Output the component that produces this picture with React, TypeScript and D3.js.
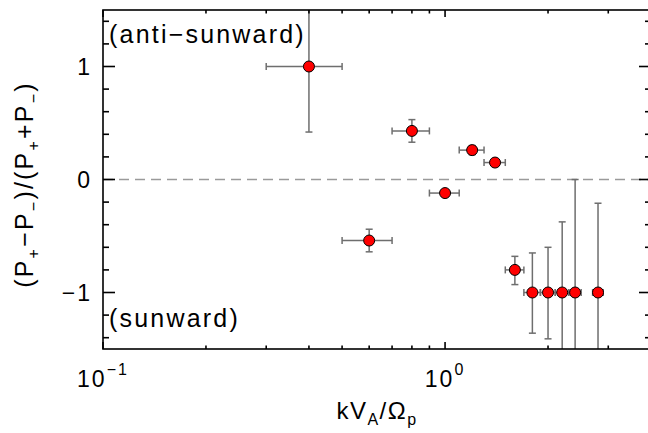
import * as d3 from 'd3';
import React from 'react';

// kV_A/Omega_p, value, x error range, y error range
const kva = [0.4, 0.8, 1.2, 1.4, 1.0, 0.6, 1.6, 1.8, 2.0, 2.2, 2.4, 2.8];
const xLo = [0.3, 0.7, 1.1, 1.3, 0.9, 0.5, 1.5, 1.7, 1.9, 2.1, 2.3, 2.7];
const xHi = [0.5, 0.9, 1.3, 1.5, 1.1, 0.7, 1.7, 1.9, 2.1, 2.3, 2.5, 2.9];
const ratio = [1.0, 0.43, 0.26, 0.15, -0.12, -0.54, -0.8, -1.0, -1.0, -1.0, -1.0, -1.0];
const yLo = [0.42, 0.33, 0.22, 0.13, -0.14, -0.64, -0.93, -1.36, -1.41, -1.7, -1.7, -1.7];
const yHi = [1.7, 0.53, 0.3, 0.17, -0.1, -0.44, -0.68, -0.65, -0.6, -0.375, 0.0, -0.21];

const xMajor = [0.1, 1];
const xMajorExp = ['\u22121', '0'];
const xMinor = [0.2, 0.3, 0.4, 0.5, 0.6, 0.7, 0.8, 0.9, 2, 3];
const yMajor = [-1, 0, 1];
const yMajorLabels = ['\u22121', '0', '1'];
const yMinor = [-1.4, -1.2, -0.8, -0.6, -0.4, -0.2, 0.2, 0.4, 0.6, 0.8, 1.2, 1.4];

const W = 648, H = 433;
const left = 103, right = 651, top = 10, bottom = 349;
const font = '"Liberation Sans", Arial, sans-serif';

const App = () => {
  const x = d3.scaleLog().domain([0.1, 4]).range([left, right]);
  const y = d3.scaleLinear().domain([-1.5, 1.5]).range([bottom, top]);
  const grey = '#6e6e6e';
  const cap = 3.5;

  return (
    <svg width={W} height={H} style={{ position: 'absolute', left: 0, top: 0, background: '#fff' }}
      fontFamily={font}>
      <defs>
        <clipPath id="plot">
          <rect x={left} y={top} width={right - left} height={bottom - top} />
        </clipPath>
      </defs>

      {/* zero line */}
      <line x1={left} x2={right} y1={y(0)} y2={y(0)} stroke="#9a9a9a" strokeWidth={1.5}
        strokeDasharray="10,6" />

      {/* error bars */}
      <g clipPath="url(#plot)" stroke={grey} strokeWidth={1.5} fill="none">
        {kva.map((d, i) => (
          <g key={i}>
            <line x1={x(xLo[i])} x2={x(xHi[i])} y1={y(ratio[i])} y2={y(ratio[i])} />
            <line x1={x(xLo[i])} x2={x(xLo[i])} y1={y(ratio[i]) - cap} y2={y(ratio[i]) + cap} />
            <line x1={x(xHi[i])} x2={x(xHi[i])} y1={y(ratio[i]) - cap} y2={y(ratio[i]) + cap} />
            <line x1={x(d)} x2={x(d)} y1={y(yLo[i])} y2={y(yHi[i])} />
            <line x1={x(d) - cap} x2={x(d) + cap} y1={y(yLo[i])} y2={y(yLo[i])} />
            <line x1={x(d) - cap} x2={x(d) + cap} y1={y(yHi[i])} y2={y(yHi[i])} />
          </g>
        ))}
      </g>

      {/* points */}
      <g>
        {kva.map((d, i) => (
          <circle key={i} cx={x(d)} cy={y(ratio[i])} r={5.5} fill="#ff0000" stroke="#000"
            strokeWidth={1} />
        ))}
      </g>

      {/* frame and ticks */}
      <g stroke="#000" strokeWidth={1.6}>
        <rect x={left} y={top} width={right - left} height={bottom - top} fill="none" />
        {xMajor.map(t => (
          <g key={'xm' + t}>
            <line x1={x(t)} x2={x(t)} y1={bottom} y2={bottom - 7} />
            <line x1={x(t)} x2={x(t)} y1={top} y2={top + 7} />
          </g>
        ))}
        {xMinor.map(t => (
          <g key={'xn' + t}>
            <line x1={x(t)} x2={x(t)} y1={bottom} y2={bottom - 3.5} />
            <line x1={x(t)} x2={x(t)} y1={top} y2={top + 3.5} />
          </g>
        ))}
        {yMajor.map(t => (
          <g key={'ym' + t}>
            <line x1={left} x2={left + 12} y1={y(t)} y2={y(t)} />
            <line x1={right} x2={right - 12} y1={y(t)} y2={y(t)} />
          </g>
        ))}
        {yMinor.map(t => (
          <g key={'yn' + t}>
            <line x1={left} x2={left + 6} y1={y(t)} y2={y(t)} />
            <line x1={right} x2={right - 6} y1={y(t)} y2={y(t)} />
          </g>
        ))}
      </g>

      {/* tick labels */}
      <g fontSize={23} fill="#000" letterSpacing={2}>
        {yMajor.map((t, i) => (
          <text key={'yl' + t} x={left - 11} y={y(t) + 8} textAnchor="end">{yMajorLabels[i]}</text>
        ))}
        {xMajor.map((t, i) => (
          <text key={'xl' + t} x={x(t)} y={387} textAnchor="middle">
            10<tspan fontSize={16} dy={-12}>{xMajorExp[i]}</tspan>
          </text>
        ))}
      </g>

      {/* annotations */}
      <g fontSize={25} letterSpacing={2.2} fill="#000">
        <text x={109} y={43}>(anti{'\u2212'}sunward)</text>
        <text x={109} y={327}>(sunward)</text>
      </g>

      {/* axis titles */}
      <text x={377} y={419} textAnchor="middle" fontSize={24} letterSpacing={1.5}>
        kV<tspan fontSize={16} dy={6}>A</tspan><tspan dy={-6}>/Ω</tspan><tspan fontSize={16} dy={6}>p</tspan>
      </text>
      <text transform={`translate(33,${(top + bottom) / 2 + 5}) rotate(-90)`} textAnchor="middle"
        fontSize={25} letterSpacing={2.2}>
        (P<tspan fontSize={16} dy={6}>+</tspan><tspan dy={-6}>{'\u2212'}P</tspan><tspan fontSize={16} dy={6}>{'\u2212'}</tspan><tspan dy={-6}>)/(P</tspan><tspan fontSize={16} dy={6}>+</tspan><tspan dy={-6}>+P</tspan><tspan fontSize={16} dy={6}>{'\u2212'}</tspan><tspan dy={-6}>)</tspan>
      </text>
    </svg>
  );
};

export default App;
